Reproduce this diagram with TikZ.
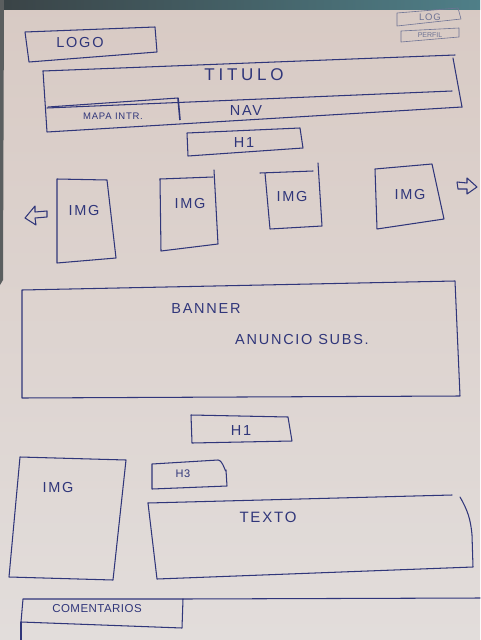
\documentclass[tikz,border=0pt]{standalone}
\usepackage{fontspec}
\setsansfont{Liberation Sans}
\definecolor{ink}{HTML}{30367A}
\definecolor{faint}{HTML}{6E7394}
\definecolor{papertop}{HTML}{D8CAC4}
\definecolor{paperbot}{HTML}{E2DDDB}
\definecolor{kbdleft}{HTML}{3A4346}
\definecolor{kbdright}{HTML}{4F7F88}
\begin{document}
\begin{tikzpicture}[x=1pt,y=-1pt,
  pen/.style={draw=ink,line width=1.05pt,line join=round,line cap=round},
  thinpen/.style={draw=faint,line width=0.6pt,line join=round,line cap=round},
  lbl/.style={text=ink,inner sep=0pt,font=\sffamily\fontsize{14.5}{14.5}\selectfont\addfontfeatures{LetterSpace=12}},
  small/.style={lbl,font=\sffamily\fontsize{9.5}{9.5}\selectfont\addfontfeatures{LetterSpace=8}}]
\useasboundingbox (0,0) rectangle (480,640);
% paper
\fill[top color=papertop,bottom color=paperbot] (0,0) rectangle (480,640);
% keyboard edge and table edge
\fill[left color=kbdleft,right color=kbdright] (0,0) rectangle (480,9);
\fill[kbdleft!80!papertop] (0,0) -- (4,0) -- (3,280) -- (0,285) -- cycle;

% header: logo and account links
\draw[pen] (25,32) -- (155,27) -- (157,52) -- (29,62) -- cycle;
\node[lbl] (logo) at (80,43) {LOGO};
\draw[thinpen] (397,13) -- (458,8) -- (461,19) -- (397,26) -- cycle;
\node[small,text=faint] (log) at (430,17) {LOG};
\draw[thinpen] (401,31) -- (459,28) -- (459,37) -- (401,42) -- cycle;
\node[small,text=faint,font=\sffamily\fontsize{7}{7}\selectfont] (perfil) at (430,35.5) {PERFIL};

% title bar with navigation
\draw[pen] (43,71) -- (455,55);
\draw[pen] (453,58) -- (462,107);
\draw[pen] (43,71) -- (47,132) -- (462,107);
\draw[pen] (47,108) -- (452,91);
\draw[pen] (48,107) -- (178,98);
\draw[draw=ink,line width=1.6pt] (178,98) -- (180,120);
\node[lbl,font=\sffamily\fontsize{17}{17}\selectfont\addfontfeatures{LetterSpace=22}] (titulo) at (244,75) {TITULO};
\node[lbl] (nav) at (246,111) {NAV};
\node[small] (mapa) at (113,116) {MAPA INTR.};

% first heading
\draw[pen] (187,133) -- (300,128) -- (303,148) -- (188,156) -- cycle;
\node[lbl] (hone) at (244,143) {H1};

% image carousel
\draw[pen] (57,179) -- (107,180) -- (116,258) -- (57,263) -- cycle;
\node[lbl] (imga) at (84,211) {IMG};
\draw[pen] (160,179) -- (213,177);
\draw[pen] (214,170) -- (218,244) -- (161,251) -- (160,179);
\node[lbl] (imgb) at (190,204) {IMG};
\draw[pen] (260,173) -- (313,171);
\draw[pen] (318,163) -- (322,226) -- (270,229) -- (265,173);
\node[lbl] (imgc) at (292,197) {IMG};
\draw[pen] (375,169) -- (432,164) -- (444,219) -- (377,229) -- cycle;
\node[lbl] (imgd) at (410,195) {IMG};
% carousel arrows
\draw[pen] (25,218) -- (35,206) -- (35,212) -- (47,211) -- (47,217) -- (35,218) -- (36,225) -- cycle;
\draw[pen] (477,187) -- (467,178) -- (467,183) -- (457,182) -- (458,189) -- (467,189) -- (467,194) -- cycle;

% banner
\draw[pen] (22,290) -- (455,281) -- (460,396) -- (22,398) -- cycle;
\node[lbl] (banner) at (206,309) {BANNER};
\node[lbl] (anuncio) at (302,340) {ANUNCIO SUBS.};

% second heading
\draw[pen] (191,415) -- (288,417) -- (292,441) -- (192,443) -- cycle;
\node[lbl] (htwo) at (241,431) {H1};

% article: image, subheading, text
\draw[pen] (20,457) -- (126,460) -- (113,580) -- (9,577) -- cycle;
\node[lbl] (imge) at (58,488) {IMG};
\draw[pen] (152,464) -- (218,460) to[out=0,in=-90] (226,470) -- (227,486) -- (152,489) -- cycle;
\node[lbl,font=\sffamily\fontsize{11}{11}\selectfont\addfontfeatures{LetterSpace=6}] (hthree) at (183,474) {H3};
\draw[pen] (148,503) -- (452,495);
\draw[pen] (460,497) to[out=-60,in=95] (472,535) -- (473,567) -- (157,579) -- (148,503);
\node[lbl,font=\sffamily\fontsize{15}{15}\selectfont\addfontfeatures{LetterSpace=12}] (texto) at (268,517) {TEXTO};

% comments section
\draw[pen] (23,599) -- (183,599) -- (182,628) -- (21,622) -- cycle;
\draw[pen] (21,622) -- (21,640);
\draw[pen] (183,599) -- (480,598);
\node[lbl,font=\sffamily\fontsize{11.5}{11.5}\selectfont\addfontfeatures{LetterSpace=4}] (coment) at (97,609) {COMENTARIOS};
\end{tikzpicture}
\end{document}
